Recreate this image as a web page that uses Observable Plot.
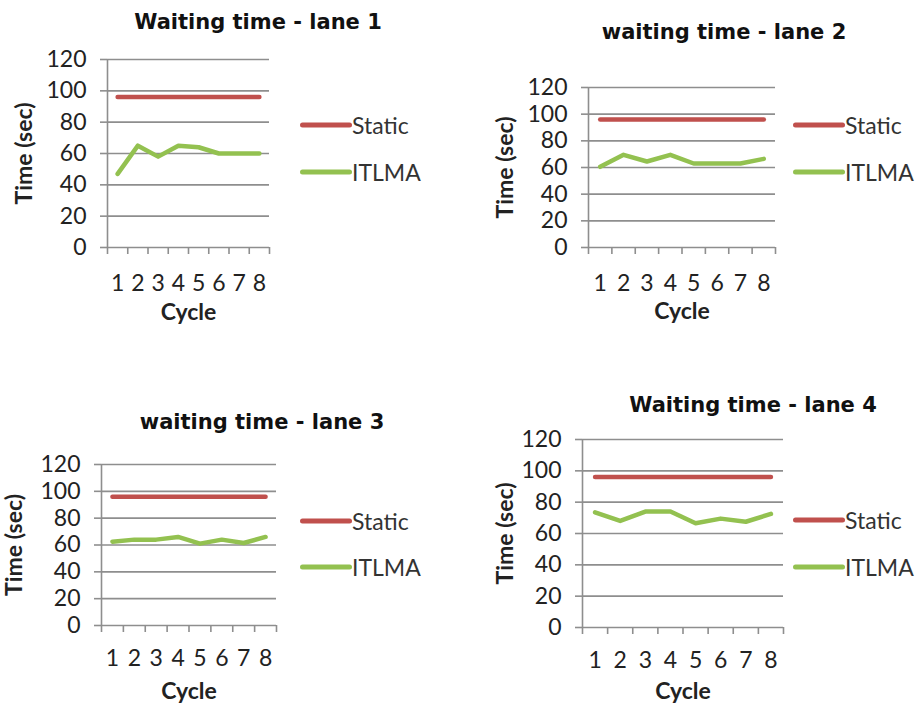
<!DOCTYPE html>
<html><head><meta charset="utf-8">
<script src="https://cdn.jsdelivr.net/npm/d3@7"></script>
<script src="https://cdn.jsdelivr.net/npm/@observablehq/plot@0.6"></script>
<style>
html,body{margin:0;padding:0;background:#fff;}
#page{position:relative;width:918px;height:707px;overflow:hidden;font-family:Lato,"Open Sans",sans-serif;}
.panel{position:absolute;}
.title{position:absolute;transform:translate(-50%,-50%);font-family:"DejaVu Sans";font-weight:bold;font-size:21px;white-space:nowrap;color:#111;}
.leg{position:absolute;display:flex;align-items:center;font-size:23px;line-height:23px;transform:translateY(-50%);color:#333;white-space:nowrap;}
.leg .sw{display:inline-block;width:52px;height:5px;border-radius:3px;}
svg [aria-label="y-axis label"] text, svg [aria-label="x-axis label"] text{font-weight:bold;}
</style>
</head><body>
<div id="page"></div>
<script>
// ---- data ----
const cycles = [1, 2, 3, 4, 5, 6, 7, 8];
const yTicks = [0, 20, 40, 60, 80, 100, 120];
const seriesNames = ["Static", "ITLMA"];
const seriesColors = ["#c0504d", "#93c150"];
const titles = ["Waiting time - lane 1", "waiting time - lane 2", "waiting time - lane 3", "Waiting time - lane 4"];
const static1 = [96, 96, 96, 96, 96, 96, 96, 96];
const static2 = [96, 96, 96, 96, 96, 96, 96, 96];
const static3 = [96, 96, 96, 96, 96, 96, 96, 96];
const static4 = [96, 96, 96, 96, 96, 96, 96, 96];
const itlma1 = [47, 65, 58, 65, 64, 60, 60, 60];
const itlma2 = [60.5, 69.5, 64.5, 69.5, 63, 63, 63, 66.5];
const itlma3 = [62.5, 64, 64, 66, 61, 64, 61.5, 66];
const itlma4 = [73.5, 68, 74, 74, 66.5, 69.5, 67.5, 72.5];
const yLabel = "Time (sec)";
const xLabel = "Cycle";

// ---- layout ----
const gridColor = "#8e8e8e";
const page = document.getElementById("page");

const panels = [
  {title: titles[0], stat: static1, itlma: itlma1, left: 0, top: 0, w: 459, h: 340,
   mL: 107, mR: 190, mT: 59, mB: 93, titleX: 258, titleY: 22, legX: 300, legY: [125, 172], xLab: 35, cyc: 65, yLabX: 27},
  {title: titles[1], stat: static2, itlma: itlma2, left: 459, top: 0, w: 459, h: 340,
   mL: 129, mR: 143, mT: 87, mB: 93, titleX: 724, titleY: 32, legX: 793, legY: [125, 172], xLab: 35, cyc: 64, yLabX: 508},
  {title: titles[2], stat: static3, itlma: itlma3, left: 0, top: 350, w: 459, h: 357,
   mL: 101, mR: 183, mT: 114, mB: 82, titleX: 262, titleY: 422, legX: 300, legY: [521, 567], xLab: 32, cyc: 66, yLabX: 17},
  {title: titles[3], stat: static4, itlma: itlma4, left: 459, top: 350, w: 459, h: 357,
   mL: 123, mR: 135, mT: 89, mB: 80, titleX: 753, titleY: 405, legX: 793, legY: [520, 567], xLab: 32, cyc: 64, yLabX: 508}
];

const fs = 23;
const bounds = cycles.map(c => c - 0.5).concat([cycles[cycles.length - 1] + 0.5]);

panels.forEach(p => {
  const data = [];
  cycles.forEach((c, i) => data.push({cycle: c, series: seriesNames[0], value: p.stat[i]}));
  cycles.forEach((c, i) => data.push({cycle: c, series: seriesNames[1], value: p.itlma[i]}));
  const frameLeftAbs = p.left + p.mL;
  const chart = Plot.plot({
    width: p.w, height: p.h,
    marginLeft: p.mL, marginRight: p.mR, marginTop: p.mT, marginBottom: p.mB,
    style: {fontFamily: "Lato, 'Open Sans', sans-serif", fontSize: fs + "px", color: "#222", background: "transparent", overflow: "visible"},
    x: {domain: [bounds[0], bounds[bounds.length - 1]]},
    y: {domain: [yTicks[0], yTicks[yTicks.length - 1]]},
    color: {domain: seriesNames, range: seriesColors},
    marks: [
      Plot.gridY(yTicks, {stroke: gridColor, strokeOpacity: 1, strokeWidth: 1.6}),
      Plot.ruleX([bounds[0]], {stroke: gridColor, strokeWidth: 1.6}),
      Plot.axisY({ticks: yTicks, tickSize: 7, tickPadding: 14, stroke: gridColor, strokeWidth: 1.6, fill: "#222",
        label: yLabel, labelAnchor: "center", labelArrow: "none",
        labelOffset: frameLeftAbs - p.yLabX + fs / 2}),
      Plot.axisX({ticks: bounds, tickSize: 7, tickFormat: () => "", stroke: gridColor, strokeWidth: 1.6, label: null}),
      Plot.axisX({ticks: cycles, tickSize: 0, tickPadding: p.xLab - 8, fill: "#222",
        label: xLabel, labelAnchor: "center", labelArrow: "none", labelOffset: p.cyc + 7}),
      Plot.line(data, {x: "cycle", y: "value", z: "series", stroke: "series", strokeWidth: 4.5})
    ]
  });
  chart.classList.add("panel");
  chart.style.left = p.left + "px";
  chart.style.top = p.top + "px";
  page.appendChild(chart);

  const t = document.createElement("div");
  t.className = "title";
  t.textContent = p.title;
  t.style.left = p.titleX + "px";
  t.style.top = p.titleY + "px";
  page.appendChild(t);

  seriesNames.forEach((name, i) => {
    const lg = document.createElement("div");
    lg.className = "leg";
    lg.style.left = p.legX + "px";
    lg.style.top = p.legY[i] + "px";
    const sw = document.createElement("span");
    sw.className = "sw";
    sw.style.background = seriesColors[i];
    const tx = document.createElement("span");
    tx.textContent = name;
    lg.appendChild(sw);
    lg.appendChild(tx);
    page.appendChild(lg);
  });
});
</script>
</body></html>
